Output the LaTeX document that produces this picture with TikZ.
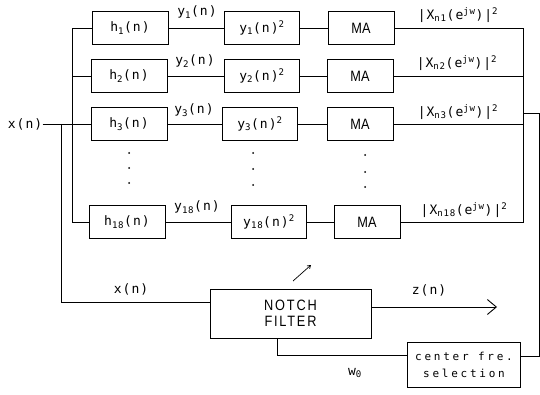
\documentclass[tikz,border=0pt]{standalone}
\usepackage{fontspec}
\setmainfont{DejaVu Sans Mono}[LetterSpace=8]
\newfontfamily\narrowf{Liberation Sans}[FakeStretch=0.85]
\newfontfamily\notchf{Liberation Sans}[FakeStretch=0.85,LetterSpace=12]
\newfontfamily\widef{DejaVu Sans Mono}[LetterSpace=25]
\usetikzlibrary{arrows.meta,calc}
\begin{document}
\begin{tikzpicture}[x=1pt,y=-1pt,line width=0.9pt,
  every node/.style={font=\fontsize{13}{15}\selectfont},
  box/.style={draw,minimum width=76pt,minimum height=33pt,inner sep=0pt},
  sqbox/.style={box,minimum width=75pt},
  mabox/.style={box,minimum width=66pt,font=\narrowf\fontsize{15}{17}\selectfont},
  lbl/.style={inner sep=0pt}
]
\useasboundingbox (0,0) rectangle (540,395);

% filter boxes
\node[box] (h1) at (130,28) {h\textsubscript{1}(n)};
\node[box] (h2) at (129,76) {h\textsubscript{2}(n)};
\node[box] (h3) at (129,124) {h\textsubscript{3}(n)};
\node[box] (h18) at (127,222) {h\textsubscript{18}(n)};
% square boxes
\node[sqbox] (s1) at (262,28) {y\textsubscript{1}(n)\textsuperscript{2}};
\node[sqbox] (s2) at (262,76) {y\textsubscript{2}(n)\textsuperscript{2}};
\node[sqbox] (s3) at (260,124) {y\textsubscript{3}(n)\textsuperscript{2}};
\node[sqbox] (s18) at (269,222) {y\textsubscript{18}(n)\textsuperscript{2}};
% MA boxes
\node[mabox] (m1) at (361,28) {MA};
\node[mabox] (m2) at (360,76) {MA};
\node[mabox] (m3) at (360,124) {MA};
\node[mabox] (m18) at (367,222) {MA};

% labels
\node[lbl] at (197,12) {y\textsubscript{1}(n)};
\node[lbl] at (195,61) {y\textsubscript{2}(n)};
\node[lbl] at (194,110) {y\textsubscript{3}(n)};
\node[lbl] at (197,207) {y\textsubscript{18}(n)};
\node[lbl] at (458,15) {|X\textsubscript{n1}(e\textsuperscript{jw})|\textsuperscript{2}};
\node[lbl] at (457,63) {|X\textsubscript{n2}(e\textsuperscript{jw})|\textsuperscript{2}};
\node[lbl] at (458,112) {|X\textsubscript{n3}(e\textsuperscript{jw})|\textsuperscript{2}};
\node[lbl] at (464,210) {|X\textsubscript{n18}(e\textsuperscript{jw})|\textsuperscript{2}};

% connections in rows
\foreach \r in {1,2,3,18}{
  \draw (h\r.east) -- (s\r.west);
  \draw (s\r.east) -- (m\r.west);
}

% input
\node[lbl] (xin) at (25,124) {x(n)};
\draw (xin.east) -- (h3.west);
\coordinate (lb1) at (72,28);
\coordinate (lb18) at (72,222);
\draw (h1.west) -- (lb1) -- (lb18) -- (h18.west);
\draw (h2.west) -- (h2.west -| lb1);
\coordinate (lb2) at (61,124);
\coordinate (lb3) at (61,302);

% notch filter
\node[box,minimum width=161pt,minimum height=49pt,align=center,
  font=\notchf\fontsize{15}{16}\selectfont] (notch) at (290.5,313.5) {NOTCH\\FILTER};
\draw (lb2) -- (lb3) -- (lb3 -| notch.west);
\node[lbl] at (131,289) {x(n)};

% output
\coordinate (zo) at (497,307);
\draw[-{Straight Barb[length=9pt,width=15pt]}] (zo -| notch.east) -- (zo);
\node[lbl] at (429,290) {z(n)};

% small diagonal arrow
\coordinate (da1) at (293,281);
\coordinate (da2) at (311,265);
\draw[line width=0.7pt,-{Straight Barb[length=3pt,width=4pt]}] (da1) -- (da2);

% right bus
\coordinate (rb1) at (523,28);
\coordinate (rb18) at (523,222);
\draw (m1.east) -- (rb1) -- (rb18) -- (m18.east);
\draw (m2.east) -- (m2.east -| rb1);
\draw (m3.east) -- (m3.east -| rb1);

% center frequency selection
\node[box,minimum width=113pt,minimum height=45pt,align=center,
  font=\widef\fontsize{11}{17}\selectfont] (cf) at (464,365) {center fre.\\selection};
\coordinate (rs) at (523,113);
\coordinate (re) at (539,113);
\coordinate (rd) at (539,356);
\draw (rs) -- (re) -- (rd) -- (rd -| cf.east);

% feedback
\coordinate (fb) at (277,355);
\draw (fb |- notch.south) -- (fb) -- (fb -| cf.west);
\node[lbl] at (355,373) {w\textsubscript{0}};

% dots
\foreach \x/\a/\b/\c in {129/153/168/183, 253/153/169/185, 365/155/172/187}{
  \fill (\x,\a) circle (1);
  \fill (\x,\b) circle (1);
  \fill (\x,\c) circle (1);
}
\end{tikzpicture}
\end{document}
